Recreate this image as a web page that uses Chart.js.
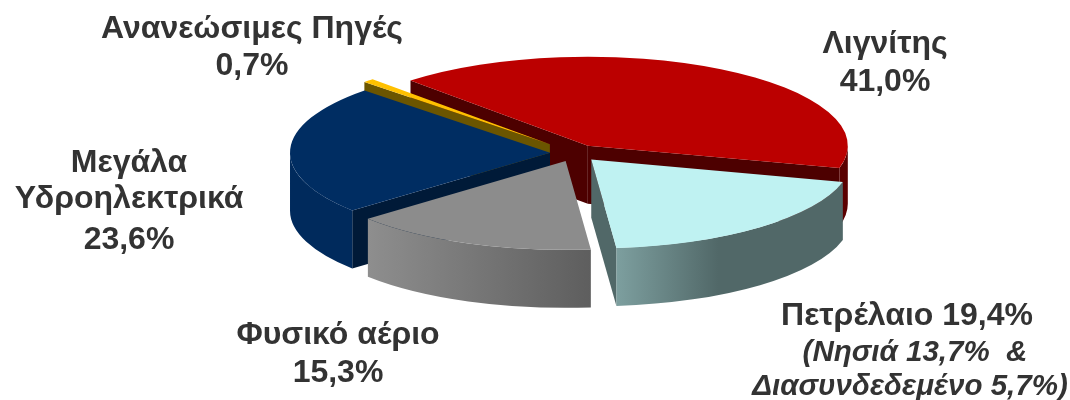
<!DOCTYPE html>
<html><head><meta charset="utf-8">
<style>html,body{margin:0;padding:0;background:#fff}canvas{display:block}</style>
<script src="https://cdn.jsdelivr.net/npm/chart.js@4"></script>
</head><body>
<canvas id="c" width="1070" height="400"></canvas>
<script>
const categories = ['Λιγνίτης','Πετρέλαιο','Φυσικό αέριο','Μεγάλα Υδροηλεκτρικά','Ανανεώσιμες Πηγές'];
const values = [41.0,19.4,15.3,23.6,0.7];
const topColors = ['#BB0000','#BFF2F2','#8C8C8C','#002D62','#FFC000'];
const faceColors = ['#4D0000','#516868','#5F5F5F','#001A38','#6B5500'];
const wallStops = [
  [[0,'#5A0000'],[1,'#5A0000']],
  [[0,'#7D9F9F'],[0.45,'#516868'],[1,'#516868']],
  [[0,'#8E8E8E'],[1,'#5E5E5E']],
  [[0,'#002A5C'],[1,'#002A5C']],
  [[0,'#6B5500'],[1,'#6B5500']]
];
const explode = [25,25,25,25,36];
const paintOrder = [0,4,3,2,1];
const tilt = 0.342, depth = 58;
const labelFont = 'bold 32px "Liberation Sans"';
const italicFont = 'italic bold 29.5px "Liberation Sans"';
const labels = [
  ['Ανανεώσιμες Πηγές',252,29,labelFont],['0,7%',252,66,labelFont],
  ['Λιγνίτης',885,44,labelFont],['41,0%',885,82,labelFont],
  ['Μεγάλα',129,163,labelFont],['Υδροηλεκτρικά',129,199,labelFont],['23,6%',129,240,labelFont],
  ['Φυσικό αέριο',338,335,labelFont],['15,3%',338,373,labelFont],
  ['Πετρέλαιο 19,4%',907,316,labelFont],['(Νησιά 13,7%  &',915,353,italicFont],['Διασυνδεδεμένο 5,7%)',910,387,italicFont]
];

const pie3d = {
  id:'pie3d',
  beforeDatasetsDraw(chart){
    const ctx = chart.ctx, arcs = chart.getDatasetMeta(0).data;
    paintOrder.forEach(i=>{
      const a = arcs[i], R = a.outerRadius, s = a.startAngle, e = a.endAngle, mid=(s+e)/2;
      const cx = a.x + Math.cos(mid)*explode[i], cy = a.y + Math.sin(mid)*explode[i]*tilt;
      const pt = t=>[cx+Math.cos(t)*R, cy+Math.sin(t)*R*tilt];
      const face = t=>{
        const p = pt(t);
        ctx.beginPath();ctx.moveTo(cx,cy);ctx.lineTo(p[0],p[1]);ctx.lineTo(p[0],p[1]+depth);ctx.lineTo(cx,cy+depth);ctx.closePath();
        ctx.fillStyle = faceColors[i];ctx.fill();
      };
      if(Math.cos(s)<0) face(s);
      if(Math.cos(e)>0) face(e);
      const TAU=Math.PI*2;
      for(let k=-1;k<=1;k++){
        const lo=Math.max(s,k*TAU), hi=Math.min(e,k*TAU+Math.PI);
        if(hi>lo){
          const gx0=Math.min(pt(lo)[0],pt(hi)[0]), gx1=Math.max(pt(lo)[0],pt(hi)[0]);
          const g=ctx.createLinearGradient(gx0,0,gx1,0);
          wallStops[i].forEach(st=>g.addColorStop(st[0],st[1]));
          ctx.beginPath();
          ctx.ellipse(cx,cy,R,R*tilt,0,lo,hi,false);
          ctx.ellipse(cx,cy+depth,R,R*tilt,0,hi,lo,true);
          ctx.closePath();ctx.fillStyle=g;ctx.fill();
        }
      }
      ctx.save();
      ctx.translate(cx,cy);ctx.scale(1,tilt);ctx.translate(-a.x,-a.y);
      a.draw(ctx);
      ctx.restore();
    });
    return false;
  },
  afterDraw(chart){
    const ctx=chart.ctx;
    ctx.save();ctx.fillStyle='#333';ctx.textAlign='center';ctx.textBaseline='middle';
    labels.forEach(l=>{ctx.font=l[3];ctx.fillText(l[0],l[1],l[2]);});
    ctx.restore();
  }
};

new Chart(document.getElementById('c'),{
  type:'pie',
  data:{labels:categories,datasets:[{data:values,backgroundColor:topColors,borderWidth:0,radius:260}]},
  options:{responsive:false,animation:false,rotation:-43,
    layout:{padding:{left:80,bottom:94}},
    plugins:{legend:{display:false},tooltip:{enabled:false}}},
  plugins:[pie3d]
});
</script>
</body></html>
